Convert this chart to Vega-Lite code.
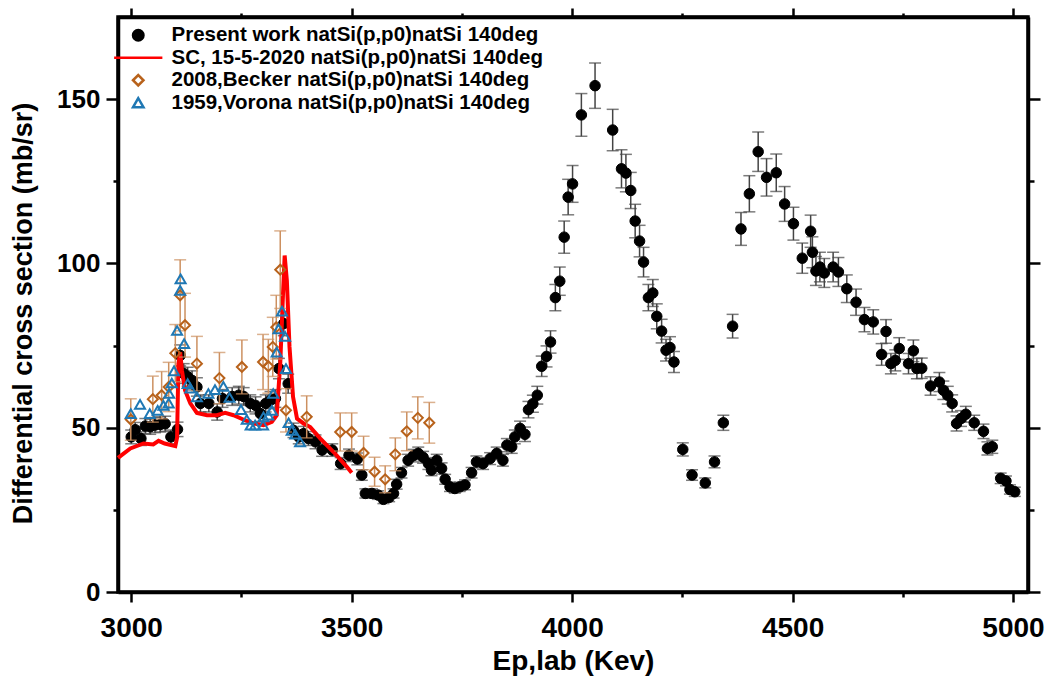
{
  "$schema": "https://vega.github.io/schema/vega-lite/v6.json",
  "autosize": {"type": "none"},
  "padding": {"left": 118, "top": 17, "right": 20, "bottom": 98},
  "width": 910,
  "height": 575,
  "background": "white",
  "config": {
    "font": "Liberation Sans",
    "view": {"stroke": "black", "strokeWidth": 3.5},
    "axis": {"domainColor": "black", "domainWidth": 3.5, "tickColor": "black", "tickWidth": 2.5, "grid": false, "labelFont": "Liberation Sans", "labelFontWeight": "bold", "labelColor": "black", "titleFont": "Liberation Sans", "titleFontWeight": "bold", "titleColor": "black"},
    "legend": {"orient": "none", "legendX": 10, "legendY": 8, "padding": 0, "labelFont": "Liberation Sans", "labelFontWeight": "bold", "labelFontSize": 20.5, "labelColor": "black", "labelOffset": 23, "rowPadding": 1.5, "symbolSize": 110, "symbolStrokeWidth": 2.5, "labelLimit": 600}
  },
  "datasets": {
    "P": [
      {"s":"P","e":3000,"y":47.2,"err":2.1},{"s":"P","e":3009,"y":49.4,"err":2.2},{"s":"P","e":3022,"y":46.7,"err":2.1},{"s":"P","e":3032,"y":50.5,"err":2.3},{"s":"P","e":3043,"y":50.3,"err":2.3},{"s":"P","e":3054,"y":50.8,"err":2.3},{"s":"P","e":3066,"y":51.0,"err":2.3},{"s":"P","e":3077,"y":51.2,"err":2.3},{"s":"P","e":3090,"y":47.2,"err":2.1},{"s":"P","e":3105,"y":49.5,"err":2.2},
      {"s":"P","e":3111,"y":72.0,"err":3.2},{"s":"P","e":3119,"y":66.5,"err":3.0},{"s":"P","e":3128,"y":65.5,"err":2.9},{"s":"P","e":3138,"y":64.4,"err":2.9},{"s":"P","e":3149,"y":62.4,"err":2.8},{"s":"P","e":3157,"y":57.4,"err":2.6},{"s":"P","e":3176,"y":57.4,"err":2.6},{"s":"P","e":3195,"y":54.8,"err":2.5},{"s":"P","e":3207,"y":58.9,"err":2.7},{"s":"P","e":3229,"y":59.5,"err":2.7},
      {"s":"P","e":3244,"y":59.9,"err":2.7},{"s":"P","e":3255,"y":59.5,"err":2.7},{"s":"P","e":3270,"y":57.4,"err":2.6},{"s":"P","e":3282,"y":56.8,"err":2.6},{"s":"P","e":3293,"y":54.3,"err":2.4},{"s":"P","e":3305,"y":57.4,"err":2.6},{"s":"P","e":3316,"y":58.4,"err":2.6},{"s":"P","e":3327,"y":58.9,"err":2.7},{"s":"P","e":3335,"y":68.0,"err":3.1},{"s":"P","e":3346,"y":81.7,"err":3.7},
      {"s":"P","e":3356,"y":63.4,"err":2.9},{"s":"P","e":3368,"y":49.2,"err":2.2},{"s":"P","e":3380,"y":47.2,"err":2.1},{"s":"P","e":3391,"y":48.2,"err":2.2},{"s":"P","e":3402,"y":46.7,"err":2.1},{"s":"P","e":3418,"y":45.7,"err":2.1},{"s":"P","e":3433,"y":43.2,"err":1.9},{"s":"P","e":3456,"y":43.2,"err":1.9},{"s":"P","e":3475,"y":39.1,"err":1.8},{"s":"P","e":3494,"y":41.6,"err":1.9},
      {"s":"P","e":3513,"y":40.5,"err":1.8},{"s":"P","e":3523,"y":35.6,"err":1.6},{"s":"P","e":3531,"y":30.0,"err":1.4},{"s":"P","e":3546,"y":30.0,"err":1.4},{"s":"P","e":3560,"y":29.5,"err":1.3},{"s":"P","e":3572,"y":28.2,"err":1.3},{"s":"P","e":3585,"y":28.8,"err":1.3},{"s":"P","e":3595,"y":30.0,"err":1.4},{"s":"P","e":3602,"y":32.8,"err":1.5},{"s":"P","e":3613,"y":36.3,"err":1.6},
      {"s":"P","e":3628,"y":40.1,"err":1.8},{"s":"P","e":3640,"y":41.5,"err":1.9},{"s":"P","e":3651,"y":42.2,"err":1.9},{"s":"P","e":3662,"y":41.0,"err":1.8},{"s":"P","e":3674,"y":39.1,"err":1.8},{"s":"P","e":3681,"y":37.1,"err":1.7},{"s":"P","e":3693,"y":40.1,"err":1.8},{"s":"P","e":3704,"y":37.6,"err":1.7},{"s":"P","e":3712,"y":34.3,"err":1.5},{"s":"P","e":3723,"y":32.0,"err":1.4},
      {"s":"P","e":3734,"y":31.5,"err":1.4},{"s":"P","e":3745,"y":32.0,"err":1.4},{"s":"P","e":3757,"y":32.6,"err":1.5},{"s":"P","e":3772,"y":36.3,"err":1.6},{"s":"P","e":3783,"y":39.6,"err":1.8},{"s":"P","e":3798,"y":39.1,"err":1.8},{"s":"P","e":3814,"y":40.6,"err":1.8},{"s":"P","e":3829,"y":42.2,"err":1.9},{"s":"P","e":3843,"y":40.1,"err":1.8},{"s":"P","e":3852,"y":44.7,"err":2.0},
      {"s":"P","e":3863,"y":44.2,"err":2.0},{"s":"P","e":3870,"y":47.2,"err":2.1},{"s":"P","e":3882,"y":49.8,"err":2.2},{"s":"P","e":3893,"y":48.0,"err":2.2},{"s":"P","e":3901,"y":55.5,"err":2.5},{"s":"P","e":3911,"y":57.3,"err":2.6},{"s":"P","e":3921,"y":59.9,"err":2.7},{"s":"P","e":3931,"y":68.7,"err":3.1},{"s":"P","e":3942,"y":71.7,"err":3.2},{"s":"P","e":3951,"y":76.1,"err":3.4},
      {"s":"P","e":3962,"y":89.6,"err":4.0},{"s":"P","e":3972,"y":94.6,"err":4.3},{"s":"P","e":3982,"y":108.0,"err":4.9},{"s":"P","e":3991,"y":120.2,"err":5.4},{"s":"P","e":4001,"y":124.2,"err":5.6},{"s":"P","e":4021,"y":145.2,"err":6.5},{"s":"P","e":4052,"y":154.1,"err":6.9},{"s":"P","e":4092,"y":140.6,"err":6.3},{"s":"P","e":4112,"y":128.8,"err":5.8},{"s":"P","e":4122,"y":127.5,"err":5.7},
      {"s":"P","e":4133,"y":122.2,"err":5.5},{"s":"P","e":4143,"y":112.9,"err":5.1},{"s":"P","e":4153,"y":106.8,"err":4.8},{"s":"P","e":4162,"y":100.4,"err":4.5},{"s":"P","e":4173,"y":89.6,"err":4.0},{"s":"P","e":4183,"y":91.0,"err":4.1},{"s":"P","e":4192,"y":83.9,"err":3.8},{"s":"P","e":4203,"y":79.4,"err":3.6},{"s":"P","e":4213,"y":73.6,"err":3.3},{"s":"P","e":4222,"y":74.4,"err":3.3},
      {"s":"P","e":4231,"y":70.0,"err":3.2},{"s":"P","e":4251,"y":43.4,"err":2.0},{"s":"P","e":4272,"y":35.6,"err":1.6},{"s":"P","e":4302,"y":33.2,"err":1.5},{"s":"P","e":4323,"y":39.6,"err":1.8},{"s":"P","e":4343,"y":51.5,"err":2.3},{"s":"P","e":4364,"y":80.9,"err":3.6},{"s":"P","e":4383,"y":110.5,"err":5.0},{"s":"P","e":4402,"y":121.2,"err":5.5},{"s":"P","e":4422,"y":134.0,"err":6.0},
      {"s":"P","e":4441,"y":126.2,"err":5.7},{"s":"P","e":4463,"y":127.6,"err":5.7},{"s":"P","e":4482,"y":118.1,"err":5.3},{"s":"P","e":4502,"y":112.1,"err":5.0},{"s":"P","e":4522,"y":101.6,"err":4.6},{"s":"P","e":4541,"y":109.8,"err":4.9},{"s":"P","e":4545,"y":103.4,"err":4.7},{"s":"P","e":4553,"y":97.7,"err":4.4},{"s":"P","e":4562,"y":98.9,"err":4.5},{"s":"P","e":4572,"y":97.1,"err":4.4},
      {"s":"P","e":4592,"y":98.9,"err":4.5},{"s":"P","e":4604,"y":97.4,"err":4.4},{"s":"P","e":4623,"y":92.3,"err":4.2},{"s":"P","e":4644,"y":88.2,"err":4.0},{"s":"P","e":4663,"y":82.9,"err":3.7},{"s":"P","e":4683,"y":82.2,"err":3.7},{"s":"P","e":4702,"y":72.3,"err":3.3},{"s":"P","e":4712,"y":79.3,"err":3.6},{"s":"P","e":4723,"y":69.5,"err":3.1},{"s":"P","e":4733,"y":70.5,"err":3.2},
      {"s":"P","e":4742,"y":74.1,"err":3.3},{"s":"P","e":4763,"y":69.5,"err":3.1},{"s":"P","e":4774,"y":73.4,"err":3.3},{"s":"P","e":4782,"y":68.0,"err":3.1},{"s":"P","e":4793,"y":68.1,"err":3.1},{"s":"P","e":4813,"y":62.7,"err":2.8},{"s":"P","e":4833,"y":63.9,"err":2.9},{"s":"P","e":4842,"y":61.4,"err":2.8},{"s":"P","e":4852,"y":59.9,"err":2.7},{"s":"P","e":4862,"y":57.4,"err":2.6},
      {"s":"P","e":4872,"y":51.3,"err":2.3},{"s":"P","e":4882,"y":52.8,"err":2.4},{"s":"P","e":4893,"y":54.1,"err":2.4},{"s":"P","e":4912,"y":51.5,"err":2.3},{"s":"P","e":4933,"y":48.9,"err":2.2},{"s":"P","e":4942,"y":43.7,"err":2.0},{"s":"P","e":4953,"y":44.2,"err":2.0},{"s":"P","e":4972,"y":34.6,"err":1.6},{"s":"P","e":4984,"y":33.8,"err":1.5},{"s":"P","e":4993,"y":31.2,"err":1.4},
      {"s":"P","e":5004,"y":30.5,"err":1.4}
    ],
    "S": [
      {"s":"S","e":2970,"y":40.8},{"s":"S","e":2998,"y":43.7},{"s":"S","e":3028,"y":45.2},{"s":"S","e":3050,"y":44.9},{"s":"S","e":3062,"y":46.0},{"s":"S","e":3076,"y":45.2},{"s":"S","e":3100,"y":44.4},{"s":"S","e":3104,"y":47.0},{"s":"S","e":3107,"y":69.5},{"s":"S","e":3111,"y":73.0},
      {"s":"S","e":3115,"y":67.5},{"s":"S","e":3122,"y":61.4},{"s":"S","e":3134,"y":57.4},{"s":"S","e":3149,"y":54.5},{"s":"S","e":3172,"y":53.8},{"s":"S","e":3194,"y":53.8},{"s":"S","e":3213,"y":54.5},{"s":"S","e":3232,"y":53.8},{"s":"S","e":3254,"y":52.5},{"s":"S","e":3277,"y":51.3},
      {"s":"S","e":3300,"y":50.8},{"s":"S","e":3319,"y":51.8},{"s":"S","e":3330,"y":53.8},{"s":"S","e":3338,"y":69.5},{"s":"S","e":3344,"y":89.8},{"s":"S","e":3348,"y":102.4},{"s":"S","e":3353,"y":94.8},{"s":"S","e":3359,"y":74.6},{"s":"S","e":3367,"y":59.4},{"s":"S","e":3376,"y":52.8},
      {"s":"S","e":3391,"y":51.3},{"s":"S","e":3406,"y":50.2},{"s":"S","e":3429,"y":46.7},{"s":"S","e":3459,"y":42.6},{"s":"S","e":3489,"y":38.1},{"s":"S","e":3500,"y":36.3}
    ],
    "B": [
      {"s":"B","e":2999,"y":52.5,"err":6.3},{"s":"B","e":3049,"y":58.7,"err":7.0},{"s":"B","e":3069,"y":59.9,"err":7.2},{"s":"B","e":3085,"y":62.4,"err":7.5},{"s":"B","e":3100,"y":72.7,"err":8.7},{"s":"B","e":3111,"y":90.3,"err":10.8},{"s":"B","e":3122,"y":81.2,"err":9.7},{"s":"B","e":3149,"y":69.5,"err":8.3},{"s":"B","e":3200,"y":65.1,"err":7.8},{"s":"B","e":3251,"y":68.5,"err":8.2},
      {"s":"B","e":3299,"y":70.0,"err":8.4},{"s":"B","e":3311,"y":68.7,"err":8.2},{"s":"B","e":3321,"y":74.6,"err":9.0},{"s":"B","e":3329,"y":80.6,"err":9.7},{"s":"B","e":3338,"y":98.1,"err":11.8},{"s":"B","e":3351,"y":55.3,"err":6.6},{"s":"B","e":3398,"y":53.3,"err":6.4},{"s":"B","e":3474,"y":48.7,"err":5.8},{"s":"B","e":3500,"y":48.7,"err":5.8},{"s":"B","e":3527,"y":42.3,"err":5.1},
      {"s":"B","e":3552,"y":36.6,"err":4.4},{"s":"B","e":3576,"y":34.3,"err":4.1},{"s":"B","e":3599,"y":41.9,"err":5.0},{"s":"B","e":3625,"y":48.9,"err":5.9},{"s":"B","e":3650,"y":53.0,"err":6.4},{"s":"B","e":3676,"y":51.5,"err":6.2}
    ],
    "V": [
      {"s":"V","e":2999,"y":54.3},{"s":"V","e":3020,"y":57.1},{"s":"V","e":3042,"y":54.3},{"s":"V","e":3060,"y":55.3},{"s":"V","e":3073,"y":56.8},{"s":"V","e":3085,"y":57.5},{"s":"V","e":3086,"y":60.4},{"s":"V","e":3092,"y":63.6},{"s":"V","e":3097,"y":67.3},{"s":"V","e":3104,"y":79.6},
      {"s":"V","e":3111,"y":91.8},{"s":"V","e":3112,"y":95.3},{"s":"V","e":3120,"y":75.6},{"s":"V","e":3128,"y":63.4},{"s":"V","e":3134,"y":62.0},{"s":"V","e":3149,"y":59.4},{"s":"V","e":3175,"y":60.4},{"s":"V","e":3190,"y":61.6},{"s":"V","e":3209,"y":62.6},{"s":"V","e":3223,"y":59.2},
      {"s":"V","e":3249,"y":55.5},{"s":"V","e":3262,"y":52.5},{"s":"V","e":3271,"y":50.8},{"s":"V","e":3281,"y":50.8},{"s":"V","e":3299,"y":50.8},{"s":"V","e":3300,"y":53.3},{"s":"V","e":3311,"y":53.8},{"s":"V","e":3319,"y":55.3},{"s":"V","e":3322,"y":60.4},{"s":"V","e":3330,"y":73.0},
      {"s":"V","e":3334,"y":80.1},{"s":"V","e":3342,"y":85.5},{"s":"V","e":3349,"y":77.8},{"s":"V","e":3351,"y":68.0},{"s":"V","e":3357,"y":51.5},{"s":"V","e":3364,"y":49.2},{"s":"V","e":3372,"y":48.0},{"s":"V","e":3383,"y":45.7}
    ]
  },
  "resolve": {"axis": {"x": "independent", "y": "independent"}},
  "layer": [
    {
      "data": {"name": "P"},
      "mark": {"type": "errorbar", "ticks": {"size": 12, "thickness": 1.5, "color": "#444444"}, "rule": {"strokeWidth": 1.5, "color": "#444444"}},
      "encoding": {
        "x": {"field": "e", "type": "quantitative", "scale": {"domain": [2970, 5034], "nice": false, "zero": false}, "axis": null},
        "y": {"field": "y", "type": "quantitative", "scale": {"domain": [0, 175], "nice": false}, "axis": null},
        "yError": {"field": "err"}
      }
    },
    {
      "data": {"name": "P"},
      "mark": {"type": "point", "size": 110, "strokeWidth": 1, "opacity": 1},
      "encoding": {
        "x": {"field": "e", "type": "quantitative", "axis": {"orient": "bottom", "values": [3000,3250,3500,3750,4000,4250,4500,4750,5000], "labelExpr": "datum.value % 500 == 0 ? datum.label : ''", "format": "d", "tickSize": {"condition": {"test": "datum.value % 500 == 0", "value": 10}, "value": 5}, "labelFontSize": 28, "labelPadding": 12, "title": "Ep,lab (Kev)", "titleFontSize": 28, "titlePadding": 5}},
        "y": {"field": "y", "type": "quantitative", "axis": {"orient": "left", "values": [0,25,50,75,100,125,150], "labelExpr": "datum.value % 50 == 0 ? datum.label : ''", "tickSize": {"condition": {"test": "datum.value % 50 == 0", "value": 12}, "value": 5}, "labelFontSize": 26, "labelPadding": 6, "title": "Differential cross section (mb/sr)", "titleFontSize": 27, "titlePadding": 19, "titleY": 296}},
        "stroke": {"field": "s", "type": "nominal", "title": null, "scale": {"domain": ["P","S","B","V"], "range": ["black","#ff0000","#b8621b","#1f78b4"]}, "legend": {"labelExpr": "datum.value == 'P' ? 'Present work natSi(p,p0)natSi 140deg' : datum.value == 'S' ? 'SC, 15-5-2020 natSi(p,p0)natSi 140deg' : datum.value == 'B' ? '2008,Becker natSi(p,p0)natSi 140deg' : '1959,Vorona natSi(p,p0)natSi 140deg'"}},
        "fill": {"field": "s", "type": "nominal", "title": null, "scale": {"domain": ["P","S","B","V"], "range": ["black","transparent","transparent","transparent"]}},
        "shape": {"field": "s", "type": "nominal", "title": null, "scale": {"domain": ["P","S","B","V"], "range": ["circle","M-4.6,0L4.6,0","diamond","triangle-up"]}}
      }
    },
    {
      "data": {"name": "S"},
      "mark": {"type": "line", "strokeWidth": 4},
      "encoding": {
        "x": {"field": "e", "type": "quantitative", "axis": {"orient": "top", "values": [3000,3250,3500,3750,4000,4250,4500,4750,5000], "labels": false, "title": null, "tickSize": {"condition": {"test": "datum.value % 500 == 0", "value": 9}, "value": 4}}},
        "y": {"field": "y", "type": "quantitative", "axis": {"orient": "right", "values": [0,25,50,75,100,125,150], "labels": false, "title": null, "tickSize": {"condition": {"test": "datum.value % 50 == 0", "value": 12}, "value": 6}}},
        "stroke": {"field": "s", "type": "nominal", "title": null}
      }
    },
    {
      "data": {"name": "B"},
      "mark": {"type": "errorbar", "ticks": {"size": 12, "thickness": 1.5, "color": "#cc9060"}, "rule": {"strokeWidth": 1.5, "color": "#cc9060"}},
      "encoding": {
        "x": {"field": "e", "type": "quantitative", "axis": null},
        "y": {"field": "y", "type": "quantitative", "axis": null},
        "yError": {"field": "err"}
      }
    },
    {
      "data": {"name": "B"},
      "mark": {"type": "point", "size": 100, "strokeWidth": 2, "opacity": 1},
      "encoding": {
        "x": {"field": "e", "type": "quantitative", "axis": null},
        "y": {"field": "y", "type": "quantitative", "axis": null},
        "stroke": {"field": "s", "type": "nominal", "title": null},
        "fill": {"field": "s", "type": "nominal", "title": null},
        "shape": {"field": "s", "type": "nominal", "title": null}
      }
    },
    {
      "data": {"name": "V"},
      "mark": {"type": "point", "size": 100, "strokeWidth": 2, "opacity": 1},
      "encoding": {
        "x": {"field": "e", "type": "quantitative", "axis": null},
        "y": {"field": "y", "type": "quantitative", "axis": null},
        "stroke": {"field": "s", "type": "nominal", "title": null},
        "fill": {"field": "s", "type": "nominal", "title": null},
        "shape": {"field": "s", "type": "nominal", "title": null}
      }
    }
  ]
}
